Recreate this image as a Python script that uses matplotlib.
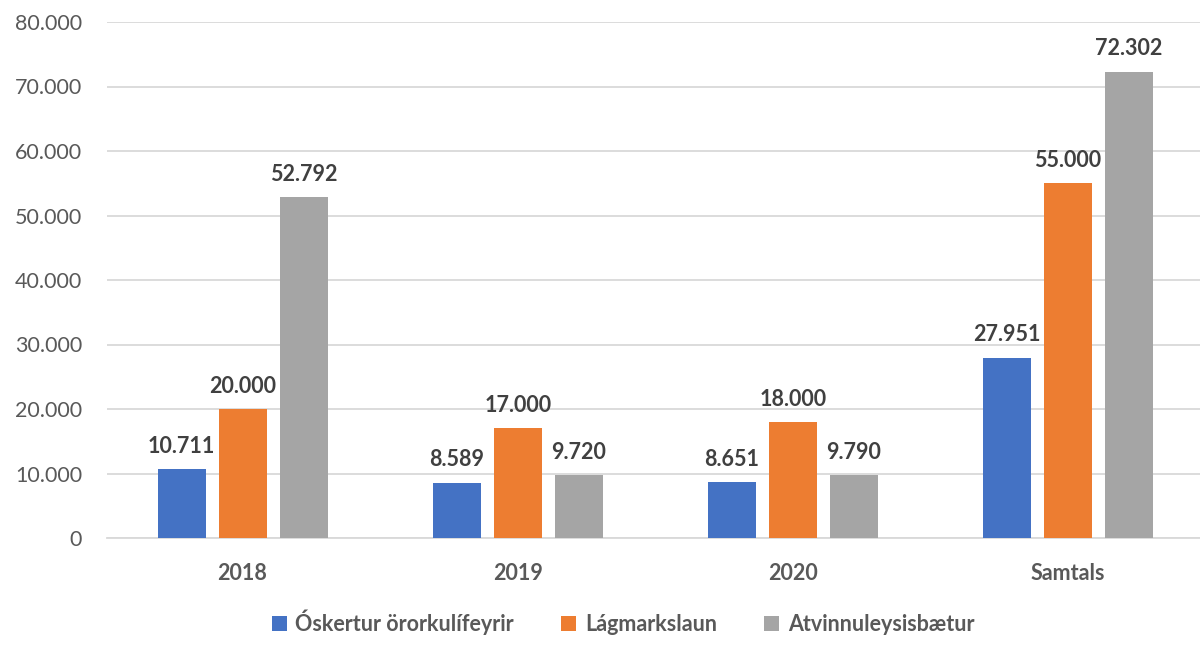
import matplotlib
matplotlib.use("Agg")
import matplotlib.pyplot as plt
import numpy as np

plt.rcParams['font.family'] = ['Lato', 'DejaVu Sans']

categories = ['2018', '2019', '2020', 'Samtals']
series_names = ['Óskertur örorkulífeyrir', 'Lágmarkslaun', 'Atvinnuleysisbætur']
oskertur = [10711, 8589, 8651, 27951]
lagmark = [20000, 17000, 18000, 55000]
atvinnu = [52792, 9720, 9790, 72302]
colors = ['#4472C4', '#ED7D31', '#A5A5A5']

def fmt(v):
    return f"{v:,.0f}".replace(",", ".")

fig = plt.figure(figsize=(12, 6.51), dpi=100)
ax = fig.add_axes([107/1200, 1 - 538/651, 1093/1200, 516/651])

x = np.arange(len(categories))
w = 48/275
pitch = 61/275
for i, (vals, c, name) in enumerate(zip([oskertur, lagmark, atvinnu], colors, series_names)):
    xs = x + (i - 1) * pitch
    ax.bar(xs, vals, width=w, color=c, label=name, zorder=3)
    for xx, v in zip(xs, vals):
        ax.text(xx, v + 1900, fmt(v), ha='center', va='bottom', fontsize=15.5,
                fontweight='bold', color='#404040')

ax.set_ylim(0, 80000)
ax.set_xlim(-0.5 + 2/275, 3.5 - 5.5/275)
ax.set_yticks(np.arange(0, 80001, 10000))
ax.set_yticklabels([fmt(v) for v in np.arange(0, 80001, 10000)])
ax.set_xticks(x)
ax.set_xticklabels(categories, fontweight='bold')
ax.grid(axis='y', color='#D9D9D9', linewidth=1.3, zorder=0)
for s in ['top', 'right', 'left']:
    ax.spines[s].set_visible(False)
ax.spines['bottom'].set_color('#D9D9D9')
ax.spines['bottom'].set_linewidth(1.3)
ax.tick_params(axis='both', length=0, labelsize=15.5, colors='#595959')
ax.tick_params(axis='y', pad=18)
ax.tick_params(axis='x', pad=18)

leg = fig.legend(loc='center', bbox_to_anchor=(623/1200, 1 - 622/651), ncol=3,
                 frameon=False, fontsize=15.5, handlelength=0.7, handleheight=0.7,
                 columnspacing=2.2, handletextpad=0.4)
for t in leg.get_texts():
    t.set_color('#595959')
    t.set_fontweight('bold')

fig.savefig('out.png', dpi=100)
